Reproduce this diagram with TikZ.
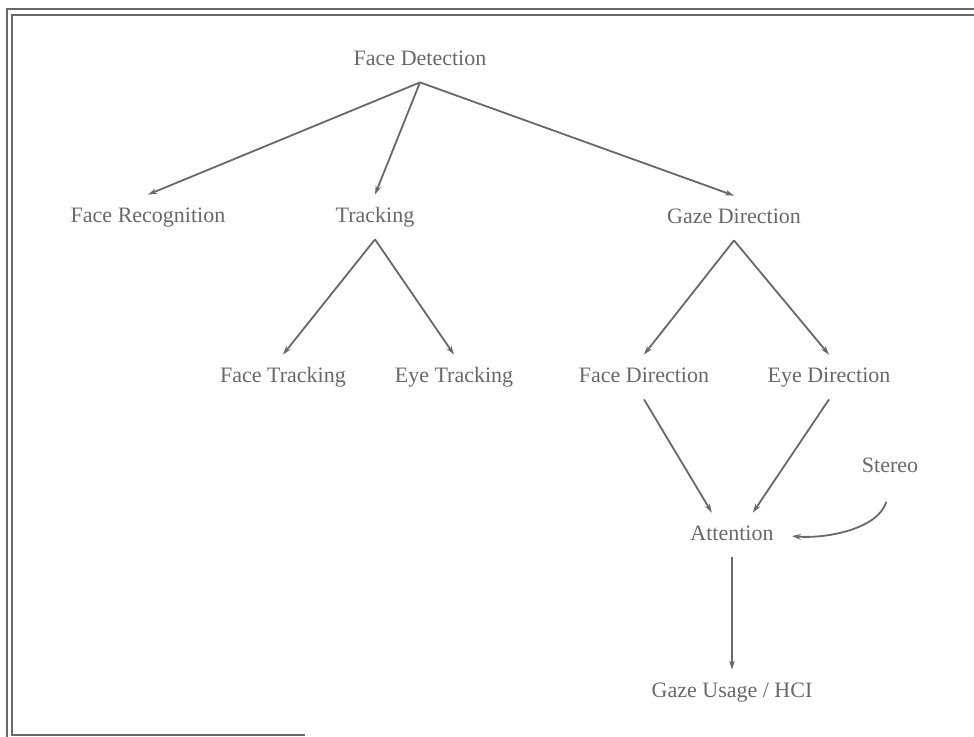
\documentclass[tikz,border=0pt]{standalone}
\usepackage{fontspec}
\setmainfont{Liberation Serif}
\usetikzlibrary{arrows.meta,positioning}
\definecolor{inkgray}{HTML}{686868}

\begin{document}
\begin{tikzpicture}[
  x=0.5pt, y=-0.5pt,
  font=\fontsize{11}{13}\selectfont,
  >={Stealth[length=4.5pt,width=2.8pt]},
  topic/.style={text=inkgray, inner xsep=3pt, inner ysep=0pt,
                text height=8pt, text depth=2.5pt, minimum height=22pt},
  arrow/.style={->, line width=0.9pt, color=inkgray},
  frame/.style={line width=0.8pt, color=inkgray},
]
\useasboundingbox (0,0) rectangle (974,737);

% double frame (top and left only)
\draw[frame] (7,737) -- (7,9) -- (974,9);
\draw[frame] (305,735) -- (12,735) -- (12,15) -- (974,15);

\node[topic] (facedet)  at (420,60)  {Face Detection};
\node[topic] (facerec)  at (148,217) {Face Recognition};
\node[topic] (track)    at (375,217) {Tracking};
\node[topic] (gazedir)  at (734,218) {Gaze Direction};
\node[topic] (facetrk)  at (283,377) {Face Tracking};
\node[topic] (eyetrk)   at (454,377) {Eye Tracking};
\node[topic] (facedir)  at (644,377) {Face Direction};
\node[topic] (eyedir)   at (829,377) {Eye Direction};
\node[topic] (stereo)   at (890,467) {Stereo};
\node[topic] (attn)     at (732,535) {Attention};
\node[topic] (usage)    at (732,692) {Gaze Usage / HCI};

\draw[arrow] (facedet.south) -- (facerec.north);
\draw[arrow] (facedet.south) -- (track.north);
\draw[arrow] (facedet.south) -- (gazedir.north);
\draw[arrow] (track.south) -- (facetrk.north);
\draw[arrow] (track.south) -- (eyetrk.north);
\draw[arrow] (gazedir.south) -- (facedir.north);
\draw[arrow] (gazedir.south) -- (eyedir.north);
\draw[arrow] (facedir.south) -- (attn.132);
\draw[arrow] (eyedir.south) -- (attn.47);
\draw[arrow, shorten <=6.5pt, shorten >=6pt]
  (stereo.south) .. controls +(-12,40) and +(45,4) .. (attn.east);
\draw[arrow] (attn.south) -- (usage.north);

\end{tikzpicture}
\end{document}
